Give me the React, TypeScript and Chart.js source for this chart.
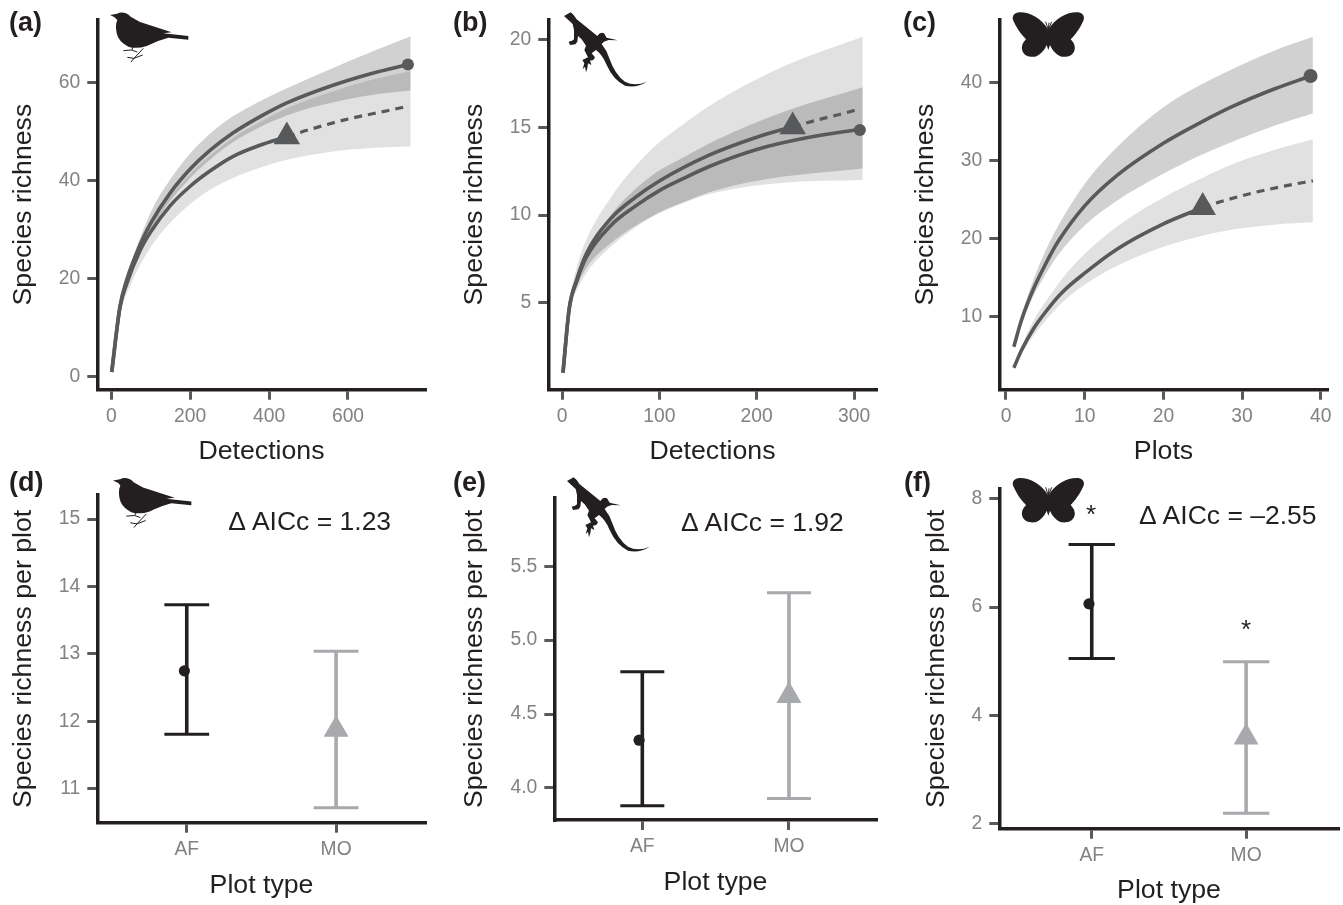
import React, { useEffect, useRef } from "react";
import { Chart, registerables } from "chart.js";

Chart.register(...registerables);

/* ---------- panel (a) ---------- */
const aObsX = [1, 22, 39, 73, 100, 150, 200, 250, 309, 375, 445, 562, 660, 752];
const aObsY = [1, 14.4, 19.8, 27, 31.4, 37.6, 42.4, 46.2, 49.8, 53, 55.9, 59.5, 61.9, 63.7];
const aBandAUpX = [1, 25, 50, 100, 150, 200, 250, 309, 375, 445, 562, 660, 759];
const aBandAUp = [1.2, 15.4, 23, 33.6, 40.4, 45.6, 49.6, 53.2, 56.2, 58.9, 63, 66.3, 69.5];
const aBandALoX = [1, 25, 50, 100, 150, 200, 250, 309, 375, 445, 500, 562, 660, 759];
const aBandALo = [1, 14.5, 20.8, 29.8, 36, 40.6, 44.3, 47.9, 50.9, 53.3, 54.8, 56, 57.5, 58.4];
const aFitX = [1, 22, 39, 73, 100, 150, 200, 250, 309, 375, 445];
const aFitY = [1, 14.2, 19, 25.8, 29.6, 35, 38.9, 42, 45, 47.2, 49];
const aExtraX = [445, 500, 600, 700, 752];
const aExtraY = [49, 50.4, 52.6, 54.3, 55.2];
const aBandBX = [1, 25, 50, 100, 150, 200, 250, 309, 375, 445, 562, 660, 759];
const aBandBUp = [1.2, 14.4, 21.2, 30.6, 36.8, 41.4, 45.1, 48.8, 51.9, 54.8, 58.2, 60.6, 62.4];
const aBandBLo = [1, 13.5, 19, 26.5, 31.5, 35.3, 38.2, 40.6, 42.6, 44.3, 46, 46.7, 47];
const aEndA = [752, 63.7];
const aEndB = [445, 49];
const aXTicks = [0, 200, 400, 600];
const aYTicks = [0, 20, 40, 60];

/* ---------- panel (b) ---------- */
const bObsX = [1, 7.5, 15, 25, 50, 75, 100, 125, 150, 200, 250, 306];
const bObsY = [1, 4.7, 6.2, 7.6, 9.4, 10.5, 11.4, 12.1, 12.75, 13.75, 14.4, 14.9];
const bBandAX = [1, 7.5, 15, 25, 50, 91, 125, 159, 228, 309];
const bBandAUp = [1, 4.8, 6.5, 7.9, 10, 12.2, 13.3, 14.3, 15.9, 17.3];
const bBandALo = [1, 4.6, 5.9, 7, 8.4, 9.9, 10.75, 11.44, 12.2, 12.67];
const bFitX = [1, 7.5, 15, 25, 50, 75, 100, 150, 200, 237];
const bFitY = [1, 4.7, 6.3, 7.8, 9.8, 11, 11.95, 13.4, 14.45, 15.05];
const bExtraX = [237, 260, 285, 302];
const bExtraY = [15.05, 15.4, 15.75, 16];
const bBandBX = [1, 7.5, 15, 25, 50, 91, 125, 159, 228, 309];
const bBandBUp = [1, 5, 7, 8.6, 11, 13.7, 15.2, 16.5, 18.5, 20.2];
const bBandBLo = [1, 4.5, 5.7, 6.7, 8.2, 9.85, 10.7, 11.3, 11.85, 12];
const bEndA = [306, 14.86];
const bEndB = [237, 15.05];
const bXTicks = [0, 100, 200, 300];
const bYTicks = [5, 10, 15, 20];

/* ---------- panel (c) ---------- */
const cObsX = [1, 2, 3.5, 5, 6.6, 10, 14, 20, 25, 29, 34, 38.7];
const cObsY = [6.2, 9.7, 13.6, 16.7, 19.6, 24.2, 28, 32.2, 35, 37, 39.1, 40.8];
const cBandAX = [1, 2, 3.5, 5, 6.6, 10, 14, 20, 25, 29, 34, 39];
const cBandAUp = [6.5, 10.3, 14.8, 18.4, 21.6, 27, 31.6, 36.8, 39.8, 41.8, 44, 45.8];
const cBandALo = [5.9, 9, 12.7, 15.4, 17.9, 21.7, 24.8, 28.3, 30.8, 32.5, 34.4, 36];
const cFitX = [1, 2, 3.5, 5, 7, 10, 14, 20, 25];
const cFitY = [3.5, 5.8, 8.5, 10.6, 13, 15.6, 18.6, 21.9, 24];
const cExtraX = [25, 28, 32, 36, 39];
const cExtraY = [24, 24.95, 26, 26.85, 27.4];
const cBandBUpX = [1, 2, 3.5, 5, 7.7, 11, 15, 20.4, 25, 29, 34, 39];
const cBandBUp = [3.7, 6.3, 9.5, 11.9, 15.6, 19, 22.2, 25.5, 27.8, 29.6, 31.3, 32.7];
const cBandBLoX = [1, 2, 3.5, 5.6, 8, 12, 16, 20.4, 24.2, 29, 34, 39];
const cBandBLo = [3.2, 5.3, 7.6, 10.2, 12.6, 15.4, 17.4, 19.1, 20.2, 21.2, 21.8, 22.1];
const cEndA = [38.7, 40.8];
const cEndB = [25, 24];
const cXTicks = [0, 10, 20, 30, 40];
const cYTicks = [10, 20, 30, 40];

/* ---------- panels (d), (e), (f) ---------- */
const plotTypes = ["AF", "MO"];
const dAF = { mean: 12.75, lo: 11.81, hi: 13.73 };
const dMO = { mean: 11.88, lo: 10.72, hi: 13.04 };
const eAF = { mean: 4.323, lo: 3.88, hi: 4.787 };
const eMO = { mean: 4.624, lo: 3.928, hi: 5.32 };
const fAF = { mean: 6.06, lo: 5.05, hi: 7.16 };
const fMO = { mean: 3.59, lo: 2.185, hi: 4.99 };
const dYTicks = [11, 12, 13, 14, 15];
const eYTicks = [4, 4.5, 5, 5.5];
const fYTicks = [2, 4, 6, 8];

const INK = "#231f20";
const LINE = "#58595b";
const TICKTEXT = "#808285";
const LIGHTBAR = "#a7a9ac";
const BAND_OBS = "rgba(65,64,66,0.24)";
const BAND_FIT = "rgba(65,64,66,0.155)";
const FONT = "'Liberation Sans', Arial, sans-serif";

const xy = (xs: number[], ys: number[]) => xs.map((x, i) => ({ x, y: ys[i] }));

function band(upper: any[], lower: any[], color: string, index: number) {
  return [
    { data: upper, borderWidth: 0, pointRadius: 0, cubicInterpolationMode: "monotone", fill: { target: index + 1 }, backgroundColor: color, order: 10 },
    { data: lower, borderWidth: 0, pointRadius: 0, cubicInterpolationMode: "monotone", fill: false, order: 10 },
  ];
}
const curve = (data: any[], dash?: number[]) => ({
  data,
  borderColor: LINE,
  borderWidth: dash ? 3.2 : 3.6,
  borderDash: dash || [],
  pointRadius: 0,
  cubicInterpolationMode: "monotone",
  fill: false,
  order: 2,
});
const marker = (p: number[], style: string, r: number, color: string) => ({
  data: [{ x: p[0], y: p[1] }],
  showLine: false,
  pointStyle: style,
  pointRadius: r,
  pointBackgroundColor: color,
  pointBorderWidth: 0,
  fill: false,
  order: 0,
});

function curveSets(o: any) {
  return [
    ...band(o.aUp, o.aLo, BAND_OBS, 0),
    ...band(o.bUp, o.bLo, BAND_FIT, 2),
    curve(o.obs),
    curve(o.fit),
    curve(o.extra, [8, 6]),
    marker(o.endA, "circle", o.rA, LINE),
    marker(o.endB, "triangle", 15.3, LINE),
  ];
}

const CAP = 0.15;
function errorSets(x: number, v: any, color: string, width: number) {
  const base = { borderColor: color, pointRadius: 0, fill: false, order: 2 };
  return [
    { ...base, borderWidth: width, data: [{ x, y: v.lo }, { x, y: v.hi }] },
    { ...base, borderWidth: 3, data: [{ x: x - CAP, y: v.lo }, { x: x + CAP, y: v.lo }] },
    { ...base, borderWidth: 3, data: [{ x: x - CAP, y: v.hi }, { x: x + CAP, y: v.hi }] },
  ];
}
function pairSets(af: any, mo: any, offset: number) {
  return [
    ...errorSets(1, af, INK, 3.6),
    ...errorSets(2, mo, LIGHTBAR, 3.6),
    marker([1 - offset, af.mean], "circle", 5.6, INK),
    marker([2, mo.mean], "triangle", 14.4, LIGHTBAR),
  ];
}

const panels: any[] = [
  {
    box: [0, 0, 445, 480], plot: [97.3, 19.5, 425.7, 389.7], titleX: 23.5, titleY: 451.5,
    xRange: [-35.5, 797], yRange: [-2.59, 72.9], xTicks: aXTicks, yTicks: aYTicks,
    xTitle: "Detections", yTitle: "Species richness",
    datasets: curveSets({
      aUp: xy(aBandAUpX, aBandAUp), aLo: xy(aBandALoX, aBandALo), bUp: xy(aBandBX, aBandBUp), bLo: xy(aBandBX, aBandBLo),
      obs: xy(aObsX, aObsY), fit: xy(aFitX, aFitY), extra: xy(aExtraX, aExtraY), endA: aEndA, endB: aEndB, rA: 6,
    }),
  },
  {
    box: [450, 0, 445, 480], plot: [548.3, 19.5, 876.7, 389.7], titleX: 474.5, titleY: 451.5,
    xRange: [-14.08, 323.3], yRange: [0.034, 21.17], xTicks: bXTicks, yTicks: bYTicks,
    xTitle: "Detections", yTitle: "Species richness",
    datasets: curveSets({
      aUp: xy(bBandAX, bBandAUp), aLo: xy(bBandAX, bBandALo), bUp: xy(bBandBX, bBandBUp), bLo: xy(bBandBX, bBandBLo),
      obs: xy(bObsX, bObsY), fit: xy(bFitX, bFitY), extra: xy(bExtraX, bExtraY), endA: bEndA, endB: bEndB, rA: 6,
    }),
  },
  {
    box: [900, 0, 443, 480], plot: [999.3, 19.5, 1327.7, 389.7], titleX: 925.5, titleY: 451.5,
    xRange: [-0.85, 40.88], yRange: [0.7, 48.02], xTicks: cXTicks, yTicks: cYTicks,
    xTitle: "Plots", yTitle: "Species richness",
    datasets: curveSets({
      aUp: xy(cBandAX, cBandAUp), aLo: xy(cBandAX, cBandALo), bUp: xy(cBandBUpX, cBandBUp), bLo: xy(cBandBLoX, cBandBLo),
      obs: xy(cObsX, cObsY), fit: xy(cFitX, cFitY), extra: xy(cExtraX, cExtraY), endA: cEndA, endB: cEndB, rA: 7,
    }),
  },
  {
    box: [0, 470, 445, 435], plot: [97.3, 495, 425.7, 822.7], titleX: 23.5, titleY: 885.5,
    xRange: [0.401, 2.6], yRange: [10.5, 15.356], xTicks: [1, 2], yTicks: dYTicks, cats: true,
    xTitle: "Plot type", yTitle: "Species richness per plot",
    datasets: pairSets(dAF, dMO, 0.016),
  },
  {
    box: [450, 470, 445, 435], plot: [554.3, 498, 876.7, 820], titleX: 474.5, titleY: 882.5,
    xRange: [0.4, 2.598], yRange: [3.783, 5.962], xTicks: [1, 2], yTicks: eYTicks, cats: true, yDigits: 1,
    xTitle: "Plot type", yTitle: "Species richness per plot",
    datasets: pairSets(eAF, eMO, 0.022),
  },
  {
    box: [900, 470, 443, 435], plot: [999.3, 489, 1338.7, 828.7], titleX: 936.5, titleY: 890.5,
    xRange: [0.401, 2.6], yRange: [1.9, 8.185], xTicks: [1, 2], yTicks: fYTicks, cats: true,
    xTitle: "Plot type", yTitle: "Species richness per plot",
    datasets: pairSets(fAF, fMO, 0.018),
  },
];

const TITLE_SIZE = 26.7;
const TICK_SIZE = 19.3;

function makeConfig(p: any) {
  const [bx, by, bw, bh] = p.box;
  const [l, t, r, b] = p.plot;
  const common = {
    border: { display: true, color: INK, width: 3.5 },
    grid: { drawOnChartArea: false, drawTicks: true, tickLength: 10, tickColor: LINE, tickWidth: 3, lineWidth: 3 },
  };
  return {
    type: "line",
    data: { datasets: p.datasets },
    options: {
      responsive: false,
      animation: false,
      devicePixelRatio: 1,
      events: [],
      layout: { autoPadding: false, padding: { left: 0, top: t - by, right: bx + bw - r, bottom: 0 } },
      plugins: { legend: { display: false }, tooltip: { enabled: false }, title: { display: false } },
      scales: {
        x: {
          type: "linear",
          min: p.xRange[0],
          max: p.xRange[1],
          ...common,
          afterFit: (s: any) => { s.height = by + bh - b; },
          afterBuildTicks: (s: any) => { s.ticks = p.xTicks.map((value: number) => ({ value })); },
          ticks: {
            autoSkip: false,
            maxRotation: 0,
            padding: 5,
            color: TICKTEXT,
            font: { family: FONT, size: TICK_SIZE },
            callback: (v: number) => (p.cats ? plotTypes[v - 1] : String(v)),
          },
          title: {
            display: true,
            text: p.xTitle,
            color: INK,
            font: { family: FONT, size: TITLE_SIZE },
            padding: { top: 0, bottom: by + bh - p.titleY - TITLE_SIZE * 0.6 },
          },
        },
        y: {
          type: "linear",
          min: p.yRange[0],
          max: p.yRange[1],
          ...common,
          afterFit: (s: any) => { s.width = l - bx; },
          afterBuildTicks: (s: any) => { s.ticks = p.yTicks.map((value: number) => ({ value })); },
          ticks: {
            autoSkip: false,
            padding: 7,
            color: TICKTEXT,
            font: { family: FONT, size: TICK_SIZE },
            callback: (v: number) => (p.yDigits ? v.toFixed(p.yDigits) : String(v)),
          },
          title: {
            display: true,
            text: p.yTitle,
            color: INK,
            font: { family: FONT, size: TITLE_SIZE },
            padding: { top: p.titleX - bx - TITLE_SIZE * 0.6, bottom: 0 },
          },
        },
      },
    },
  };
}

function Panel({ p }: { p: any }) {
  const ref = useRef<HTMLCanvasElement | null>(null);
  useEffect(() => {
    const chart = new Chart(ref.current as any, makeConfig(p) as any);
    return () => chart.destroy();
  }, [p]);
  const [x, y, w, h] = p.box;
  return <canvas ref={ref} width={w} height={h} style={{ position: "absolute", left: x, top: y, width: w, height: h }} />;
}

const BIRD = "M330 45 Q350 42 358 38 Q378 35 392 50 L420 66 L515 97 L490 100 L565 108 L565 119 L505 113 Q470 122 440 138 Q410 148 385 140 Q355 125 350 100 Q345 75 352 60 Q345 50 330 45 Z";
const BIRD_LEGS = "M430 145 L402 175 L382 172 M402 175 L428 165 M402 175 L393 186 M400 140 L395 150 L370 152 M395 150 L412 156";
const LIZARD = "M342 48 L362 37 Q372 44 380 58 L420 90 L442 108 Q450 95 462 100 L470 113 L503 121 L476 120 L462 125 L455 132 Q470 150 478 175 Q495 225 525 245 Q555 260 590 245 Q560 265 525 257 Q490 240 470 195 Q458 165 438 150 L425 160 L435 172 L430 180 L420 182 L424 195 L414 190 L412 205 L408 217 L405 200 L398 208 L403 190 L397 180 L414 172 L403 150 L408 137 L395 118 L384 108 L382 125 L376 133 L360 135 L356 125 L366 122 L372 118 L372 90 L368 72 Z";
const BUTTERFLY = "M445 90 C425 55 390 37 360 37 C340 37 335 50 340 62 C350 85 365 105 378 118 C368 128 363 140 367 152 C372 168 390 172 405 170 C420 165 433 152 440 135 L445 150 L450 135 C457 152 470 165 485 170 C500 172 518 168 523 152 C527 140 522 128 512 118 C525 105 540 85 550 62 C555 50 550 37 530 37 C500 37 465 55 445 90 Z";
const ANTENNAE = "M445 90 L437 65 M445 90 L447 68 M445 90 L455 65";

function Icons() {
  const bird = (x: number, y: number) => (
    <g transform={`translate(${x},${y}) scale(${1 / 3})`}>
      <path d={BIRD} fill={INK} />
      <path d={BIRD_LEGS} fill="none" stroke={INK} strokeWidth={3} />
    </g>
  );
  const lizard = (x: number, y: number) => (
    <g transform={`translate(${x},${y}) scale(${1 / 3})`}>
      <path d={LIZARD} fill={INK} />
    </g>
  );
  const fly = (x: number, y: number) => (
    <g transform={`translate(${x},${y}) scale(${1 / 3})`}>
      <path d={BUTTERFLY} fill={INK} />
      <path d={ANTENNAE} fill="none" stroke={INK} strokeWidth={3} />
    </g>
  );
  return (
    <svg width={1343} height={905} style={{ position: "absolute", left: 0, top: 0, pointerEvents: "none" }}>
      {bird(0, 0)}
      {lizard(450, 0)}
      {fly(900, 0)}
      {bird(3, 465.5)}
      {lizard(453, 465)}
      {fly(900, 465.7)}
    </svg>
  );
}

const letters: [string, number, number][] = [
  ["(a)", 9, 22], ["(b)", 453, 22], ["(c)", 903, 22],
  ["(d)", 9, 482], ["(e)", 453, 482], ["(f)", 904, 482],
];
const notes: [string, number, number][] = [
  ["Δ AICc = 1.23", 228.3, 521],
  ["Δ AICc = 1.92", 681, 522.7],
  ["Δ AICc = –2.55", 1139, 515],
];
const stars: [string, number, number][] = [
  ["*", 1091, 514],
  ["*", 1246, 629],
];

const label = (size: number, x: number, y: number, bold = false, center = false): React.CSSProperties => ({
  position: "absolute",
  left: x,
  top: y - size / 2,
  fontFamily: FONT,
  fontSize: size,
  lineHeight: `${size}px`,
  fontWeight: bold ? 700 : 400,
  color: INK,
  whiteSpace: "pre",
  transform: center ? "translateX(-50%)" : undefined,
});

export default function App() {
  return (
    <div style={{ position: "absolute", left: 0, top: 0, width: 1343, height: 905, background: "#fff", overflow: "hidden" }}>
      {panels.map((p, i) => <Panel key={i} p={p} />)}
      <Icons />
      {letters.map(([t, x, y]) => <span key={t} style={label(27, x, y, true)}>{t}</span>)}
      {notes.map(([t, x, y]) => <span key={t} style={label(26.5, x, y)}>{t}</span>)}
      {stars.map(([t, x, y], i) => <span key={i} style={label(26, x, y, false, true)}>{t}</span>)}
    </div>
  );
}
